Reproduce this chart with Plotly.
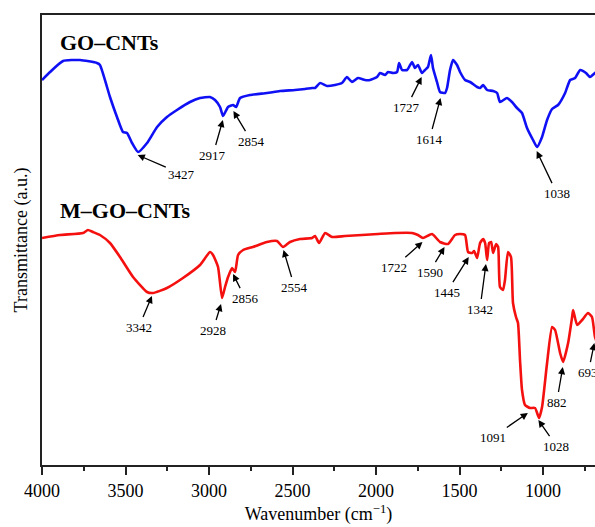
import plotly.graph_objects as go

# ---- data (wavenumber cm^-1, transmittance a.u.) ----
wn_go = [4000, 3952, 3874, 3772, 3671, 3653, 3593, 3551, 3515, 3491, 3461, 3425, 3371, 3311, 3252,
         3192, 3114, 3054, 2994, 2964, 2934, 2916, 2886, 2856, 2838, 2814, 2755, 2653, 2575, 2485,
         2425, 2383, 2365, 2335, 2293, 2246, 2204, 2174, 2144, 2108, 2066, 2036, 1994, 1976, 1946,
         1928, 1898, 1874, 1862, 1844, 1814, 1796, 1784, 1767, 1749, 1725, 1707, 1689, 1671, 1659,
         1635, 1617, 1587, 1575, 1557, 1539, 1515, 1497, 1467, 1437, 1395, 1377, 1359, 1335, 1299,
         1275, 1258, 1216, 1186, 1156, 1126, 1096, 1060, 1036, 1006, 976, 946, 910, 868, 838,
         808, 778, 743, 719, 689, 659]
t_go = [385, 393, 404, 405, 402, 400, 368, 348, 333, 332, 322, 313, 322, 338, 348,
        355, 363, 367, 368, 365, 358, 349, 358, 360, 358, 367, 370, 372, 374, 375,
        376, 377, 377, 382, 379, 380, 382, 388, 383, 387, 385, 385, 388, 392, 390,
        393, 392, 393, 402, 395, 395, 400, 403, 397, 400, 392, 395, 398, 410, 397,
        383, 373, 372, 377, 395, 405, 400, 393, 385, 383, 378, 377, 380, 375, 374,
        372, 363, 367, 363, 357, 352, 337, 325, 318, 328, 345, 356, 360, 372, 385,
        387, 395, 392, 388, 392, 397]

wn_mgo = [4000, 3892, 3754, 3725, 3695, 3653, 3593, 3533, 3455, 3371, 3335, 3252, 3156, 3054, 2994,
          2976, 2946, 2922, 2904, 2886, 2862, 2844, 2826, 2796, 2737, 2653, 2593, 2557, 2515, 2455,
          2383, 2365, 2341, 2305, 2263, 2186, 2084, 1988, 1886, 1784, 1749, 1719, 1665, 1617, 1569,
          1527, 1497, 1467, 1449, 1425, 1413, 1395, 1377, 1359, 1347, 1335, 1323, 1311, 1299, 1281,
          1269, 1258, 1240, 1228, 1210, 1192, 1180, 1162, 1150, 1138, 1126, 1108, 1078, 1048, 1024,
          1006, 976, 946, 928, 898, 880, 850, 826, 820, 796, 766, 731, 707, 689, 671]
t_mgo = [227, 230, 232, 235, 233, 230, 222, 208, 188, 173, 172, 177, 187, 200, 213,
         210, 198, 167, 178, 188, 197, 193, 210, 215, 218, 223, 224, 218, 223, 226,
         227, 229, 222, 232, 228, 229, 230, 231, 232, 232, 230, 227, 231, 223, 221,
         230, 231, 230, 213, 212, 214, 207, 222, 226, 222, 205, 222, 223, 212, 221,
         218, 178, 175, 185, 213, 208, 162, 148, 142, 105, 75, 60, 57, 57, 47,
         58, 102, 138, 135, 112, 103, 122, 148, 155, 140, 145, 152, 148, 128, 120]

# peak labels: wavenumber, arrow-tip transmittance, text offset (px)
peaks_go = [3427, 2917, 2854, 1727, 1614, 1038]
tip_go = [310, 345, 354, 388, 367, 314]
off_go = [(44, 19), (-10, 35), (18, 30), (-15, 30), (-11, 41), (20, 42)]

peaks_mgo = [3342, 2928, 2856, 2554, 1722, 1590, 1445, 1342, 1091, 1028, 882, 693]
tip_mgo = [169, 161, 191, 215, 223, 218, 208, 201, 52, 45, 98, 122]
off_mgo = [(-13, 31), (-8, 26), (12, 24), (11, 37), (-28, 25), (-15, 25), (-22, 35),
           (-6, 45), (-35, 24), (18, 26), (-6, 35), (-6, 29)]

sample_names = ["GO–CNTs", "M–GO–CNTs"]
x_ticks = [4000, 3500, 3000, 2500, 2000, 1500, 1000]

SERIF = "Liberation Serif, Times New Roman, serif"

fig = go.Figure()
fig.add_trace(go.Scatter(x=wn_go, y=t_go, mode="lines",
                         line=dict(color="#1010F5", width=2.6, shape="spline", smoothing=0.5),
                         showlegend=False))
fig.add_trace(go.Scatter(x=wn_mgo, y=t_mgo, mode="lines",
                         line=dict(color="#F51010", width=2.6, shape="spline", smoothing=0.5),
                         showlegend=False))

annotations = []
for wn, t, (ax, ay) in list(zip(peaks_go, tip_go, off_go)) + list(zip(peaks_mgo, tip_mgo, off_mgo)):
    annotations.append(dict(x=wn, y=t, xref="x", yref="y", text=str(wn), showarrow=True,
                            ax=ax, ay=ay, arrowhead=2, arrowsize=1.1, arrowwidth=1.3,
                            arrowcolor="black", standoff=0, startstandoff=1,
                            font=dict(family=SERIF, size=13, color="black")))

annotations.append(dict(x=58, y=43, xref="paper", yref="paper", text="<b>%s</b>" % sample_names[0],
                        showarrow=False, xanchor="left", yanchor="middle",
                        font=dict(family=SERIF, size=22, color="black")))
annotations.append(dict(x=58, y=210, xref="paper", yref="paper", text="<b>%s</b>" % sample_names[1],
                        showarrow=False, xanchor="left", yanchor="middle",
                        font=dict(family=SERIF, size=22, color="black")))

# convert the two sample labels to paper coordinates of the plotting area
L, R, T, B = 42, 0, 15, 62
W, H = 595, 527
pw, ph = W - L - R, H - T - B
for a in annotations[-2:]:
    a["x"] = (a["x"] - L) / pw
    a["y"] = 1 - (a["y"] - T) / ph

fig.update_layout(
    width=W, height=H,
    margin=dict(l=L, r=R, t=T, b=B, pad=0),
    paper_bgcolor="white", plot_bgcolor="white",
    annotations=annotations,
    font=dict(family=SERIF, color="black"),
    xaxis=dict(range=[4000, 689], tickvals=x_ticks, ticktext=[str(v) for v in x_ticks],
               ticks="outside", ticklen=8, tickwidth=1.5, tickcolor="#222",
               minor=dict(dtick=250, tick0=0, ticks="outside", ticklen=4, tickwidth=1.5, tickcolor="#222"),
               showline=True, linecolor="#222", linewidth=1.8, mirror=True,
               showgrid=False, zeroline=False,
               tickfont=dict(family=SERIF, size=18, color="black"),
               title=dict(text="Wavenumber (cm<sup>−1</sup>)", standoff=8,
                          font=dict(family=SERIF, size=18, color="black"))),
    yaxis=dict(range=[0, 450], showticklabels=False, ticks="", showgrid=False, zeroline=False,
               showline=True, linecolor="#222", linewidth=1.8, mirror=False,
               title=dict(text="Transmittance (a.u.)", standoff=8,
                          font=dict(family=SERIF, size=18, color="black"))),
)

fig.write_html("out.html")
